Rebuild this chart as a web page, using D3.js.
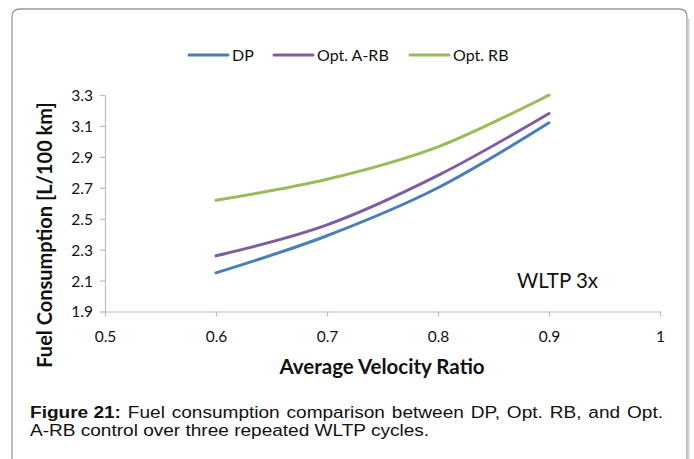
<!DOCTYPE html>
<html>
<head>
<meta charset="utf-8">
<script src="https://cdn.jsdelivr.net/npm/d3@7"></script>
<style>
  html, body { margin: 0; padding: 0; background: #fff; }
  svg { display: block; }
</style>
</head>
<body>
<svg id="chart" width="694" height="459"></svg>
<script>
// ---- data ----
const xValues = [0.6, 0.7, 0.8, 0.9];
const seriesNames = ["DP", "Opt. A-RB", "Opt. RB"];
const dpValues = [2.15, 2.39, 2.70, 3.12];
const aRbValues = [2.26, 2.46, 2.78, 3.18];
const rbValues = [2.62, 2.755, 2.965, 3.30];
const seriesColors = ["#4a7ebb", "#7d5fa0", "#9bbb59"];
const xTicks = [0.5, 0.6, 0.7, 0.8, 0.9, 1];
const yTicks = [1.9, 2.1, 2.3, 2.5, 2.7, 2.9, 3.1, 3.3];
const xTitle = "Average Velocity Ratio";
const yTitle = "Fuel Consumption [L/100 km]";
const annotation = "WLTP 3x";
const captionBold = "Figure 21:";
const captionLine1 = "Fuel consumption comparison between DP, Opt. RB, and Opt.";
const captionLine2 = "A-RB control over three repeated WLTP cycles.";

const allSeries = [dpValues, aRbValues, rbValues];

const svg = d3.select("#chart");
const font = "Lato, 'Open Sans', sans-serif";

// frame
const fl = 12, ft = 9, fr = 687, r = 8;
svg.append("path")
  .attr("d", `M${fl},459 L${fl},${ft + r} Q${fl},${ft} ${fl + r},${ft} L${fr - r},${ft} Q${fr},${ft} ${fr},${ft + r} L${fr},459`)
  .attr("fill", "none").attr("stroke", "#9a9a9a").attr("stroke-width", 1.3);
svg.append("line").attr("x1", fr + 1.5).attr("x2", fr + 1.5).attr("y1", ft + 10).attr("y2", 459)
  .attr("stroke", "#d4d4d4").attr("stroke-width", 2);

// scales
const x = d3.scaleLinear().domain([0.5, 1]).range([105, 660]);
const y = d3.scaleLinear().domain([1.9, 3.3]).range([311.5, 95]);

// axes
const xAxis = d3.axisBottom(x).tickValues(xTicks).tickSize(5).tickSizeOuter(0)
  .tickFormat(d => d === 1 ? "1" : d3.format(".1f")(d));
const yAxis = d3.axisLeft(y).tickValues(yTicks).tickSize(5).tickSizeOuter(0)
  .tickFormat(d3.format(".1f"));

const gx = svg.append("g").attr("transform", `translate(0,${y(1.9)})`).call(xAxis);
const gy = svg.append("g").attr("transform", `translate(${x(0.5)},0)`).call(yAxis);
[gx, gy].forEach(g => {
  g.select(".domain").attr("stroke", "#bdbdbd").attr("stroke-width", 1.2);
  g.selectAll(".tick line").attr("stroke", "#bdbdbd").attr("stroke-width", 1.2);
  g.selectAll(".tick text").attr("fill", "#111").style("font-family", font).style("font-size", "15.5px");
});
gx.selectAll(".tick text").attr("dy", "0").attr("y", 30);
gy.selectAll(".tick text").attr("x", -12).attr("dy", "0.35em");

// lines
const line = d3.line()
  .x((d, i) => x(xValues[i]))
  .y(d => y(d))
  .curve(d3.curveCatmullRom.alpha(0));

allSeries.forEach((vals, i) => {
  svg.append("path")
    .datum(vals)
    .attr("d", line)
    .attr("fill", "none")
    .attr("stroke", seriesColors[i])
    .attr("stroke-width", 3)
    .attr("stroke-linecap", "round");
});

// legend
const legendItems = [
  { x0: 189, name: seriesNames[0], color: seriesColors[0] },
  { x0: 274, name: seriesNames[1], color: seriesColors[1] },
  { x0: 410, name: seriesNames[2], color: seriesColors[2] }
];
const ly = 55;
legendItems.forEach(it => {
  svg.append("line").attr("x1", it.x0).attr("x2", it.x0 + 39).attr("y1", ly).attr("y2", ly)
    .attr("stroke", it.color).attr("stroke-width", 3).attr("stroke-linecap", "round");
  svg.append("text").attr("x", it.x0 + 43).attr("y", ly).attr("dy", "0.36em")
    .style("font-family", font).style("font-size", "16px").attr("fill", "#111").text(it.name);
});

// annotation
svg.append("text").attr("x", 517).attr("y", 281).attr("dy", "0.36em")
  .style("font-family", font).style("font-size", "20.5px").attr("fill", "#111").text(annotation);

// axis titles
svg.append("text").attr("x", 382).attr("y", 367).attr("dy", "0.36em")
  .attr("text-anchor", "middle")
  .style("font-family", font).style("font-size", "20.5px").style("font-weight", "bold")
  .attr("fill", "#111").text(xTitle);
svg.append("text").attr("transform", "translate(45,235) rotate(-90)")
  .attr("text-anchor", "middle").attr("dy", "0.36em")
  .style("font-family", font).style("font-size", "20px").style("font-weight", "bold")
  .attr("fill", "#111").text(yTitle);

// caption (justified first line)
const capFont = "'Liberation Sans', Arial, sans-serif";
const sx = 1.19, capSize = 16;
const cap = svg.append("g").attr("transform", `translate(30,0) scale(${sx},1)`);
const words1 = [{ t: captionBold, b: true }].concat(captionLine1.split(" ").map(t => ({ t, b: false })));
const targetW = (663 - 30) / sx;
const tmp = words1.map(w => {
  const el = cap.append("text").attr("y", 418)
    .style("font-family", capFont).style("font-size", capSize + "px")
    .style("font-weight", w.b ? "bold" : "normal").attr("fill", "#111").text(w.t);
  return { el, w: el.node().getComputedTextLength() };
});
const total = d3.sum(tmp, d => d.w);
const gap = (targetW - total) / (tmp.length - 1);
let cx = 0;
tmp.forEach(d => { d.el.attr("x", cx); cx += d.w + gap; });
cap.append("text").attr("x", 0).attr("y", 436)
  .style("font-family", capFont).style("font-size", capSize + "px")
  .attr("fill", "#111").text(captionLine2);
</script>
</body>
</html>
